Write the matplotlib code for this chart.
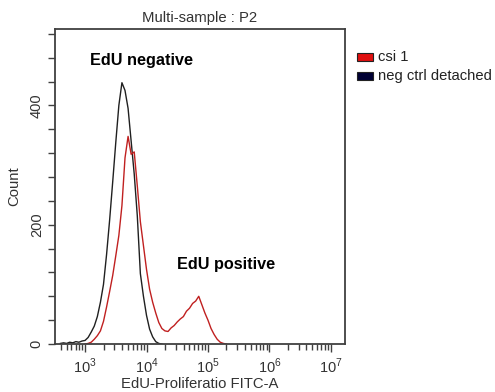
import matplotlib
matplotlib.use("Agg")
import matplotlib.pyplot as plt
from matplotlib.patches import Rectangle
import numpy as np

plt.rcParams['font.family'] = ['Liberation Sans', 'DejaVu Sans']
plt.rcParams['mathtext.fontset'] = 'custom'
plt.rcParams['mathtext.rm'] = 'Liberation Sans'

# histogram channels, log10 of FITC-A intensity (0.05 decade bins)
neg_start = 2.60
neg_counts = [1, 2, 1, 3, 2, 4, 3, 5, 6, 11, 20, 30, 46, 70, 100, 150, 208, 272,
              338, 400, 438, 425, 395, 340, 285, 215, 118, 80, 48, 25, 12, 4, 1, 0]

csi_start = 3.00
csi_counts = [0, 1, 3, 8, 14, 22, 38, 62, 88, 115, 148, 182, 232, 312, 348, 318,
              322, 265, 205, 165, 125, 92, 70, 52, 36, 26, 22, 21, 27, 31, 37, 42,
              46, 55, 60, 68, 72, 80, 66, 52, 40, 26, 16, 8, 3, 1, 0]

series_names = ["csi 1", "neg ctrl detached"]
series_colors = ["#e01010", "#000033"]
line_colors = ["#c02020", "#202020"]

x_label = "EdU-Proliferatio FITC-A"
y_label = "Count"
title = "Multi-sample : P2"

fig = plt.figure(figsize=(4.95, 3.92), dpi=100)
ax = fig.add_axes([0.111, 0.1224, 0.586, 0.8036])

def channels(start, counts):
    return 10 ** (start + 0.05 * np.arange(len(counts)))

ax.plot(channels(neg_start, neg_counts), neg_counts, color=line_colors[1], lw=1.0)
ax.plot(channels(csi_start, csi_counts), csi_counts, color=line_colors[0], lw=1.0)

ax.set_xscale('log')
ax.set_xlim(10 ** 2.51, 10 ** 7.23)
ax.set_ylim(0, 528)

ax.set_xticks([1e3, 1e4, 1e5, 1e6, 1e7])
ax.set_xticklabels([r'$10^{%d}$' % k for k in range(3, 8)])
ax.xaxis.set_minor_locator(matplotlib.ticker.LogLocator(base=10, subs=np.arange(2, 10)))
ax.xaxis.set_minor_formatter(matplotlib.ticker.NullFormatter())

yt = np.arange(0, 521, 40)
ax.set_yticks(yt)
ax.set_yticklabels([str(v) if v in (0, 200, 400) else '' for v in yt],
                   rotation=90, va='center')

gray = '#404040'
txt = '#333333'
for s in ax.spines.values():
    s.set_color(gray)
    s.set_linewidth(1.3)
ax.tick_params(axis='both', colors=gray, labelcolor=txt, labelsize=10.5,
               width=1.0)
ax.tick_params(axis='x', which='major', length=6, pad=3)
ax.tick_params(axis='x', which='minor', length=4, width=1.0, color=gray)
ax.tick_params(axis='y', length=5, pad=3)

ax.set_xlabel(x_label, fontsize=10.7, color=txt, labelpad=1)
ax.set_ylabel(y_label, fontsize=10.7, color=txt, labelpad=6)
ax.set_title(title, fontsize=10.7, color=txt, pad=5)

fig.text(141 / 495, 1 - 61 / 392, "EdU negative", fontsize=11.7,
         fontweight='bold', ha='center', va='center')
fig.text(226 / 495, 1 - 265 / 392, "EdU positive", fontsize=11.7,
         fontweight='bold', ha='center', va='center')

# legend boxes to the right of the plot
for i, (name, col) in enumerate(zip(series_names, series_colors)):
    yc = 57 + 19 * i
    fig.patches.append(Rectangle((357 / 495, 1 - (yc + 4) / 392), 16 / 495, 8 / 392,
                                 transform=fig.transFigure, facecolor=col,
                                 edgecolor='#222222', lw=0.8))
    fig.text(378 / 495, 1 - yc / 392, name, fontsize=10.6, color='#222222',
             va='center', ha='left')

fig.savefig("out.png", dpi=100)
